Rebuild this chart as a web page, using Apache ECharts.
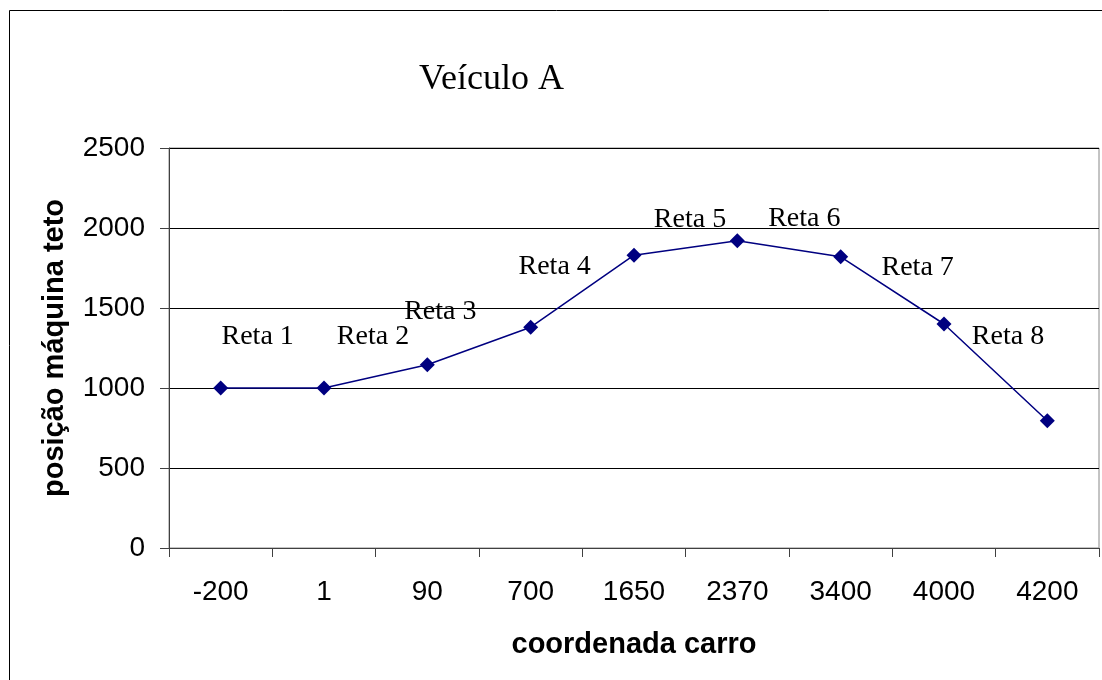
<!DOCTYPE html>
<html>
<head>
<meta charset="utf-8">
<title>Veículo A</title>
<script src="https://cdn.jsdelivr.net/npm/echarts@6/dist/echarts.min.js"></script>
<style>
  html, body { margin: 0; padding: 0; background: #fff; }
  #main { width: 1102px; height: 680px; }
</style>
</head>
<body>
<div id="main"></div>
<script>
// categorias do eixo x (coordenada carro)
var categories = ['-200', '1', '90', '700', '1650', '2370', '3400', '4000', '4200'];
// posição máquina teto em cada coordenada
var positions = [1000, 1000, 1145, 1380, 1830, 1920, 1820, 1400, 795];
// nome de cada reta (trecho entre dois pontos)
var segmentNames = ['Reta 1', 'Reta 2', 'Reta 3', 'Reta 4', 'Reta 5', 'Reta 6', 'Reta 7', 'Reta 8'];

var sans = 'Liberation Sans, Arial, sans-serif';
var serif = 'Liberation Serif, Times New Roman, serif';

var initChart = function () {
    var myChart = echarts.init(document.getElementById('main'));

    // deslocamento de cada rótulo em relação ao ponto
    var labelOffsets = [[37, -51], [49, -51], [13, -53], [24, -61], [56, -36], [67, -22], [77, 11], [64, 13]];

    var seriesData = [];
    for (var i = 0; i < positions.length; i++) {
        var item = { value: positions[i] };
        if (i < segmentNames.length) {
            item.label = {
                show: true,
                formatter: segmentNames[i],
                position: 'inside',
                align: 'center',
                verticalAlign: 'middle',
                offset: labelOffsets[i]
            };
        }
        seriesData.push(item);
    }

    var option = {
        animation: false,
        title: {
            text: 'Veículo A',
            left: 414,
            top: 57,
            textStyle: { fontFamily: serif, fontSize: 36, fontWeight: 'normal', color: '#000' }
        },
        graphic: [{
            type: 'rect',
            shape: { x: 9.5, y: 10.5, width: 1200, height: 800 },
            style: { fill: 'none', stroke: '#000', lineWidth: 1 },
            silent: true,
            z: -10
        }],
        grid: {
            show: true,
            left: 169,
            right: 3,
            top: 148,
            bottom: 132,
            borderColor: '#888',
            borderWidth: 1
        },
        xAxis: {
            type: 'category',
            data: categories,
            boundaryGap: true,
            name: 'coordenada carro',
            nameLocation: 'middle',
            nameGap: 82,
            nameTextStyle: { fontFamily: sans, fontSize: 29, fontWeight: 'bold', color: '#000' },
            axisLine: { lineStyle: { color: '#404040', width: 1 } },
            axisTick: { show: true, length: 9, alignWithLabel: false, lineStyle: { color: '#404040' } },
            axisLabel: { fontFamily: sans, fontSize: 28, color: '#000', margin: 30, interval: 0 },
            splitLine: { show: false }
        },
        yAxis: {
            type: 'value',
            min: 0,
            max: 2500,
            interval: 500,
            name: 'posição máquina teto',
            nameLocation: 'middle',
            nameGap: 100,
            nameTextStyle: { fontFamily: sans, fontSize: 29, fontWeight: 'bold', color: '#000' },
            axisLine: { show: true, lineStyle: { color: '#404040', width: 1 } },
            axisTick: { show: true, length: 9, lineStyle: { color: '#404040' } },
            axisLabel: {
                fontFamily: sans, fontSize: 28, color: '#000', margin: 24,
                formatter: function (v) { return String(v); }
            },
            splitLine: { show: true, lineStyle: { color: '#000', width: 1 } }
        },
        series: [{
            type: 'line',
            data: seriesData,
            symbol: 'diamond',
            symbolSize: 15,
            itemStyle: { color: '#000080' },
            lineStyle: { color: '#000080', width: 1.5 },
            label: { fontFamily: serif, fontSize: 28, color: '#000' }
        }]
    };

    myChart.setOption(option);
};

initChart();
</script>
</body>
</html>
